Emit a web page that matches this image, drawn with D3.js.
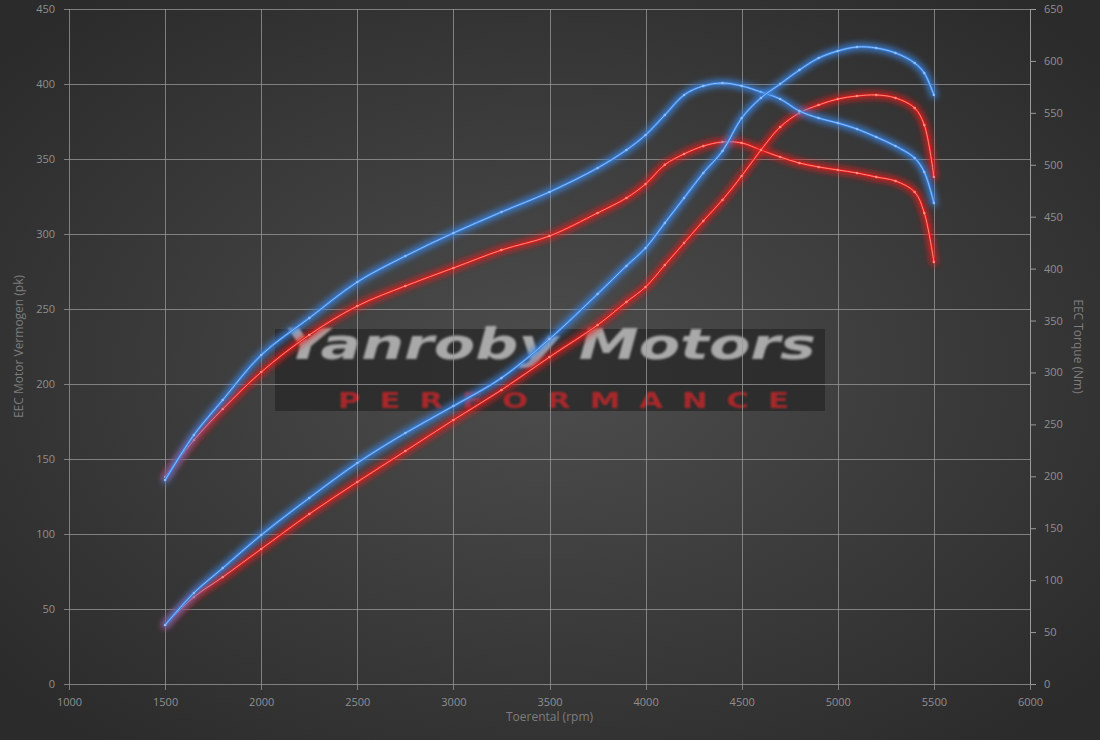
<!DOCTYPE html>
<html>
<head>
<meta charset="utf-8">
<script src="https://cdn.jsdelivr.net/npm/d3@7/dist/d3.min.js"></script>
<style>
  body { margin: 0; background: #333; }
  svg { display: block; font-family: "Open Sans", sans-serif; }
</style>
</head>
<body>
<div id="vis"></div>
<script>
// rpm points shared by all four curves
var rpm = [1500, 1650, 1800, 2000, 2250, 2500, 2750, 3000, 3250, 3500, 3750, 3900, 4000, 4100,
           4200, 4300, 4400, 4500, 4600, 4700, 4800, 4900, 5000, 5100, 5200, 5300, 5400, 5450, 5500];

// power (pk), left axis
var powerTuned = [39.3, 60.7, 77.3, 99.3, 124, 147.3, 167.3, 185.3, 204, 230, 260, 278.7, 290.7, 307.3,
                  324, 340.7, 355.3, 377.3, 390.7, 400, 409.3, 417.3, 422, 424.7, 424, 420.7, 414, 407.3, 392.7];
var powerStock = [39.3, 58, 71.3, 90, 113.3, 134.7, 155.3, 176, 196, 218, 239.3, 254.7, 264.7, 279.3,
                  294, 308.7, 322.7, 338.7, 356, 371.3, 380.7, 386, 390, 392, 392.7, 390.7, 384, 372.7, 338];

// torque (Nm), right axis
var torqueTuned = [196.4, 239.8, 273.5, 316.8, 352.4, 387.1, 412.1, 434.3, 454.5, 473.8, 496.9, 514.2, 528.7, 547.9,
                   567.2, 575.9, 578.7, 575.9, 570.1, 563.3, 551.8, 545, 540.2, 534.4, 526.7, 518.1, 506.5, 493, 463.2];
var torqueStock = [199.3, 235, 264.8, 300.4, 336.1, 364, 383.3, 400.6, 417.9, 431.4, 453.6, 468, 481.5, 500,
                   510.4, 518, 521.9, 521, 514.2, 507.5, 501.7, 497.9, 495, 492.1, 488.2, 484.4, 473.8, 453.6, 406.4];

var xTicks = [1000, 1500, 2000, 2500, 3000, 3500, 4000, 4500, 5000, 5500, 6000];
var leftTicks = [0, 50, 100, 150, 200, 250, 300, 350, 400, 450];
var rightTicks = [0, 50, 100, 150, 200, 250, 300, 350, 400, 450, 500, 550, 600, 650];

var W = 1100, H = 740;
var margin = {top: 9, right: 70, bottom: 56, left: 69},
    width = W - margin.left - margin.right,
    height = H - margin.top - margin.bottom;

var x = d3.scaleLinear().domain([1000, 6000]).range([0, width]);
var yL = d3.scaleLinear().domain([0, 450]).range([height, 0]);
var yR = d3.scaleLinear().domain([0, 650]).range([height, 0]);

var root = d3.select("#vis").append("svg")
    .attr("width", W)
    .attr("height", H);

var defs = root.append("defs");
var grad = defs.append("radialGradient")
    .attr("id", "bg")
    .attr("cx", "50%").attr("cy", "50%").attr("r", "65%");
grad.append("stop").attr("offset", "0%").attr("stop-color", "#4d4d4d");
grad.append("stop").attr("offset", "100%").attr("stop-color", "#2b2b2b");

var glow = defs.append("filter")
    .attr("id", "glow")
    .attr("x", "-10%").attr("y", "-10%")
    .attr("width", "120%").attr("height", "120%");
glow.append("feGaussianBlur").attr("stdDeviation", 3);

var soft = defs.append("filter").attr("id", "soft");
soft.append("feGaussianBlur").attr("stdDeviation", 0.9);

root.append("rect")
    .attr("width", W)
    .attr("height", H)
    .attr("fill", "url(#bg)");

var svg = root.append("g")
    .attr("transform", "translate(" + margin.left + "," + margin.top + ")");

// watermark box (sits under the grid)
var wm = svg.append("g");
wm.append("rect")
    .attr("x", 206).attr("y", 320)
    .attr("width", 550).attr("height", 82)
    .attr("fill", "#262626")
    .attr("opacity", 0.72);
wm.append("text")
    .attr("x", 481).attr("y", 350)
    .attr("text-anchor", "middle")
    .attr("font-family", "'DejaVu Sans', sans-serif")
    .attr("font-weight", "bold")
    .attr("font-style", "italic")
    .attr("font-size", 42)
    .attr("textLength", 532)
    .attr("lengthAdjust", "spacingAndGlyphs")
    .attr("fill", "#a9a9a9")
    .attr("filter", "url(#soft)")
    .text("Yanroby Motors");
wm.append("text")
    .attr("x", 269).attr("y", 399)
    .attr("font-family", "'DejaVu Sans', sans-serif")
    .attr("font-weight", "bold")
    .attr("font-size", 21)
    .attr("letter-spacing", 13)
    .attr("textLength", 470)
    .attr("lengthAdjust", "spacingAndGlyphs")
    .attr("fill", "#c8282c")
    .attr("opacity", 0.8)
    .attr("filter", "url(#soft)")
    .text("PERFORMANCE");

// grid
svg.append("g")
    .selectAll("line")
    .data(leftTicks)
    .enter().append("line")
    .attr("x1", -5).attr("x2", width)
    .attr("y1", function(d) { return Math.round(yL(d)) + 0.5; })
    .attr("y2", function(d) { return Math.round(yL(d)) + 0.5; })
    .attr("stroke", "#9a9a9a")
    .attr("stroke-opacity", 0.75);

svg.append("g")
    .selectAll("line")
    .data(xTicks)
    .enter().append("line")
    .attr("y1", 0).attr("y2", height + 6)
    .attr("x1", function(d) { return Math.round(x(d)) + 0.5; })
    .attr("x2", function(d) { return Math.round(x(d)) + 0.5; })
    .attr("stroke", "#9a9a9a")
    .attr("stroke-opacity", 0.75);

// axes
var axisColor = "#8f8f8f";

var gx = svg.append("g")
    .attr("transform", "translate(0," + height + ")")
    .call(d3.axisBottom(x).tickValues(xTicks).tickFormat(d3.format("d")).tickSize(0).tickPadding(14));
var gl = svg.append("g")
    .call(d3.axisLeft(yL).tickValues(leftTicks).tickSize(0).tickPadding(14));
var gr = svg.append("g")
    .attr("transform", "translate(" + width + ",0)")
    .call(d3.axisRight(yR).tickValues(rightTicks).tickSize(6).tickPadding(8));

[gx, gl, gr].forEach(function(g) {
  g.select(".domain").remove();
  g.selectAll("text")
      .attr("fill", axisColor)
      .attr("font-size", 11)
      .attr("font-family", "'Open Sans', sans-serif");
  g.selectAll("line").attr("stroke", "#9a9a9a");
});
svg.append("line")
    .attr("x1", width + 0.5).attr("x2", width + 0.5)
    .attr("y1", 0).attr("y2", height)
    .attr("stroke", "#9a9a9a");

// axis titles
svg.append("text")
    .attr("transform", "translate(" + (-46) + "," + (height / 2) + ")rotate(-90)")
    .attr("text-anchor", "middle")
    .attr("fill", "#7d7d7d")
    .attr("font-size", 12)
    .text("EEC Motor Vermogen (pk)");

svg.append("text")
    .attr("transform", "translate(" + (width + 44) + "," + (height / 2) + ")rotate(90)")
    .attr("text-anchor", "middle")
    .attr("fill", "#7d7d7d")
    .attr("font-size", 12)
    .text("EEC Torque (Nm)");

svg.append("text")
    .attr("x", width / 2)
    .attr("y", height + 37)
    .attr("text-anchor", "middle")
    .attr("fill", "#7d7d7d")
    .attr("font-size", 12)
    .text("Toerental (rpm)");

// curves
var series = [
  {vals: torqueStock, y: yR, glow: "#e41b1b", core: "#ff8a7c"},
  {vals: powerStock,  y: yL, glow: "#e41b1b", core: "#ff8a7c"},
  {vals: torqueTuned, y: yR, glow: "#3b86e6", core: "#8dbdf8"},
  {vals: powerTuned,  y: yL, glow: "#3b86e6", core: "#8dbdf8"}
];

series.forEach(function(s) {
  var pts = rpm.map(function(r, i) { return [r, s.vals[i]]; });
  var line = d3.line()
      .x(function(d) { return x(d[0]); })
      .y(function(d) { return s.y(d[1]); })
      .curve(d3.curveCatmullRom.alpha(0.5));

  var g = svg.append("g");
  g.append("path")
      .datum(pts)
      .attr("fill", "none")
      .attr("stroke", s.glow)
      .attr("stroke-width", 7)
      .attr("stroke-linecap", "round")
      .attr("opacity", 0.85)
      .attr("filter", "url(#glow)")
      .attr("d", line);
  g.append("path")
      .datum(pts)
      .attr("fill", "none")
      .attr("stroke", s.glow)
      .attr("stroke-width", 2.4)
      .attr("d", line);
  g.append("path")
      .datum(pts)
      .attr("fill", "none")
      .attr("stroke", s.core)
      .attr("stroke-width", 1)
      .attr("d", line);
  g.selectAll("circle")
      .data(pts)
      .enter().append("circle")
      .attr("cx", function(d) { return x(d[0]); })
      .attr("cy", function(d) { return s.y(d[1]); })
      .attr("r", 1.3)
      .attr("fill", s.core);
});
</script>
</body>
</html>
